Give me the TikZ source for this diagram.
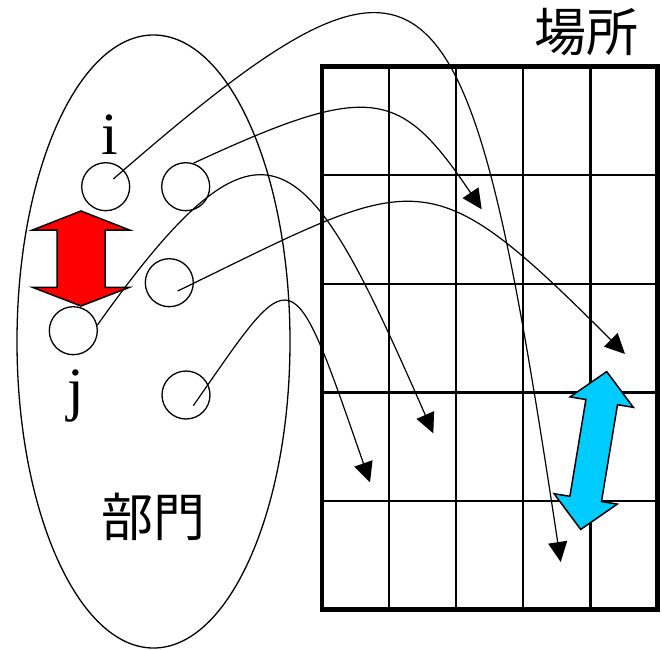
\documentclass[tikz,border=0pt]{standalone}
\usepackage{fontspec}
\setmainfont{Liberation Serif}
\newfontfamily\jpfont{Noto Sans CJK JP}
\usepackage{tikz}
\usetikzlibrary{arrows.meta,calc}
\definecolor{swapred}{HTML}{FF0000}
\definecolor{swapblue}{HTML}{00CCFF}
\tikzset{
  deptnode/.style={draw,circle,minimum size=48pt,inner sep=0pt,line width=1.3pt},
  groupbox/.style={draw,line width=1.3pt},
  flowarrow/.style={-{Triangle[length=20pt,width=19pt]},line width=1.2pt},
  cellline/.style={line width=2.3pt},
  frameline/.style={line width=4.5pt},
  swaparrow/.style={draw,line width=1.5pt,line join=miter},
  bigtext/.style={font=\jpfont\fontsize{52}{52}\selectfont,inner sep=0pt},
  idxtext/.style={font=\fontsize{60}{60}\selectfont,inner sep=0pt,anchor=base}
}

\begin{document}
\begin{tikzpicture}[x=1pt,y=-1pt]
\useasboundingbox (0,0) rectangle (662,649);
% departments
\draw[groupbox] (153.5,341.5) ellipse [x radius=136.5,y radius=306.5];
\node[deptnode] (c1) at (105.7,186.7) {};
\node[deptnode] (c2) at (185.7,186.7) {};
\node[deptnode] (c3) at (169.3,282.7) {};
\node[deptnode] (c4) at (73.3,330.7) {};
\node[deptnode] (c5) at (186,395) {};
\node[idxtext] (lbli) at (109.5,154) {i};
\node[idxtext] (lblj) at (76,409) {j};
\node[bigtext] (deptlabel) at (153,517) {部門};
% places
\foreach \k in {1,...,4} {
  \draw[cellline] ({322+\k*67.1},66.5) -- ({322+\k*67.1},609.7);
  \draw[cellline] (322,{66.5+\k*108.64}) -- (657.5,{66.5+\k*108.64});
}
\draw[frameline] (322,66.5) rectangle (657.5,609.7);
\node[bigtext] (placelabel) at (586,32) {場所};
% assignment
\coordinate (t1) at (560.7,562);
\coordinate (t2) at (481.7,209.3);
\coordinate (t3) at (625,354);
\coordinate (t4) at (433.3,433.3);
\coordinate (t5) at (370,482.3);
\draw[flowarrow] ([shift={(7.6,-7.7)}]c1.center) .. controls (435,-101) and (467,-58) .. (t1);
\draw[flowarrow] (c2.72) .. controls (371,81) and (400,88) .. (t2);
\draw[flowarrow] ([shift={(8.4,8.3)}]c3.center) .. controls (421,173) and (425,154) .. (t3);
\draw[flowarrow] (c4.13) .. controls (268,85) and (307,145) .. (t4);
\draw[flowarrow] ([shift={(7.3,10.7)}]c5.center) .. controls (295,260) and (290,252) .. (t5);
% exchanges
\draw[swaparrow,fill=swapred] (81,211) -- (129.5,230) -- (105,230) -- (105,287.3)
  -- (129.5,287.3) -- (81,306) -- (32.5,287.3) -- (57,287.3) -- (57,230)
  -- (32.5,230) -- cycle;
\draw[swaparrow,fill=swapblue] (606.7,371.6) -- (633.3,407.3) -- (617.5,404.7)
  -- (601.5,501.5) -- (617.3,504.1) -- (580.7,529.4) -- (554.1,493.7)
  -- (569.9,496.3) -- (585.9,399.5) -- (570.1,396.9) -- cycle;
\end{tikzpicture}
\end{document}
